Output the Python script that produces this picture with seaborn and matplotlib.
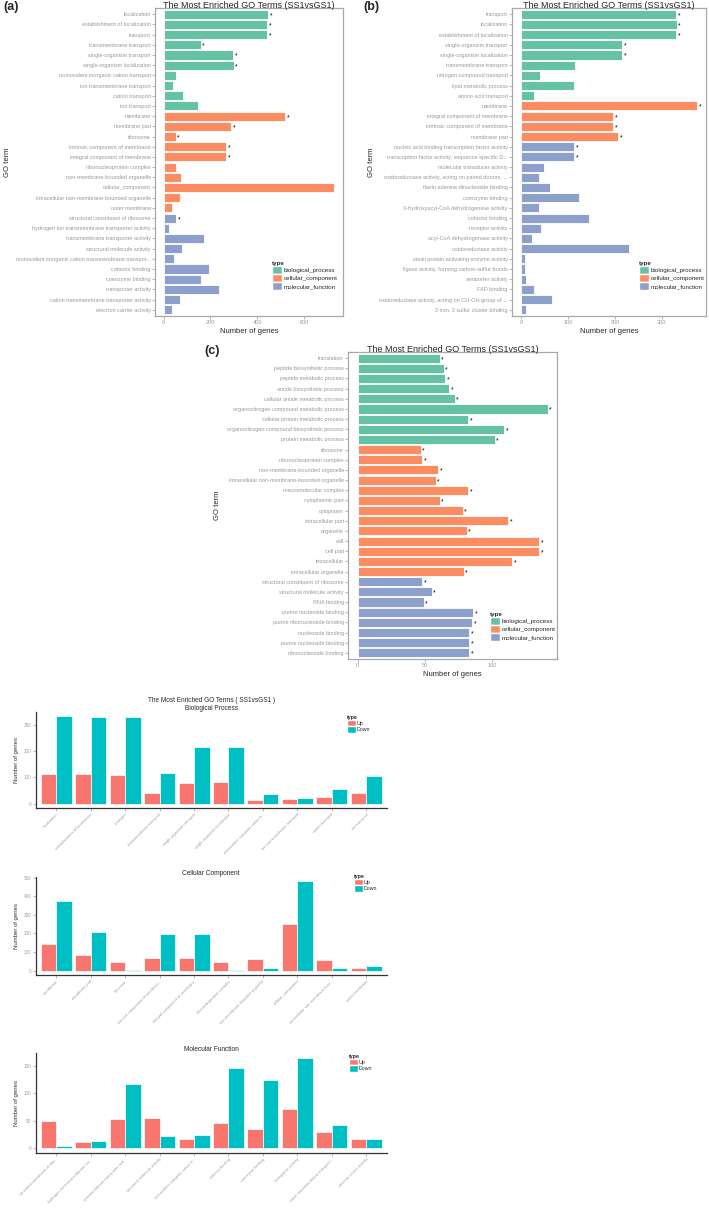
import pandas as pd
import matplotlib
matplotlib.use('Agg')
import matplotlib.pyplot as plt
from matplotlib.patches import Patch
import seaborn as sns

# ---- data ----
type_names = ['biological_process', 'cellular_component', 'molecular_function']
go_colors = ['#66C2A5', '#FC8D62', '#8DA0CB']
ud_colors = ['#F8766D', '#00BFC4']

# panel (a): all genes
a_terms = ['localization', 'establishment of localization', 'transport', 'transmembrane transport',
           'single-organism transport', 'single-organism localization',
           'monovalent inorganic cation transport', 'ion transmembrane transport',
           'cation transport', 'ion transport',
           'membrane', 'membrane part', 'ribosome', 'intrinsic component of membrane',
           'integral component of membrane', 'ribonucleoprotein complex',
           'non-membrane-bounded organelle', 'cellular_component',
           'intracellular non-membrane-bounded organelle', 'outer membrane',
           'structural constituent of ribosome', 'hydrogen ion transmembrane transporter activity',
           'transmembrane transporter activity', 'structural molecule activity',
           'monovalent inorganic cation transmembrane transpor...', 'cofactor binding',
           'coenzyme binding', 'transporter activity',
           'cation transmembrane transporter activity', 'electron carrier activity']
a_counts = [445, 442, 441, 159, 296, 299, 55, 41, 83, 146,
            518, 289, 51, 267, 267, 52, 74, 728, 72, 37,
            55, 25, 173, 79, 43, 194, 161, 237, 72, 35]
a_sizes = [10, 10, 10]
a_stars = [1, 1, 1, 1, 1, 1, 0, 0, 0, 0,
           1, 1, 1, 1, 1, 0, 0, 0, 0, 0,
           1, 0, 0, 0, 0, 0, 0, 0, 0, 0]
a_xticks = [0, 200, 400, 600]

# panel (b)
b_terms = ['transport', 'localization', 'establishment of localization',
           'single-organism transport', 'single-organism localization', 'transmembrane transport',
           'nitrogen compound transport', 'lipid metabolic process', 'amino acid transport',
           'membrane', 'integral component of membrane', 'intrinsic component of membrane',
           'membrane part',
           'nucleic acid binding transcription factor activity',
           'transcription factor activity, sequence-specific D...',
           'molecular transducer activity',
           'oxidoreductase activity, acting on paired donors, ...',
           'flavin adenine dinucleotide binding', 'coenzyme binding',
           '3-hydroxyacyl-CoA dehydrogenase activity', 'cofactor binding', 'receptor activity',
           'acyl-CoA dehydrogenase activity', 'oxidoreductase activity',
           'small protein activating enzyme activity',
           'ligase activity, forming carbon-sulfur bonds', 'antiporter activity', 'FAD binding',
           'oxidoreductase activity, acting on CH-OH group of ...',
           '2 iron, 2 sulfur cluster binding']
b_counts = [330, 332, 330, 216, 216, 115, 40, 113, 29,
            375, 196, 196, 207,
            114, 114, 50, 39, 62, 123, 38, 145, 43, 24, 230, 8, 8, 10, 29, 66, 12]
b_sizes = [9, 4, 17]
b_stars = [1, 1, 1, 1, 1, 0, 0, 0, 0,
           1, 1, 1, 1,
           1, 1, 0, 0, 0, 0, 0, 0, 0, 0, 0, 0, 0, 0, 0, 0, 0]
b_xticks = [0, 100, 200, 300]

# panel (c)
c_terms = ['translation', 'peptide biosynthetic process', 'peptide metabolic process',
           'amide biosynthetic process', 'cellular amide metabolic process',
           'organonitrogen compound metabolic process', 'cellular protein metabolic process',
           'organonitrogen compound biosynthetic process', 'protein metabolic process',
           'ribosome', 'ribonucleoprotein complex', 'non-membrane-bounded organelle',
           'intracellular non-membrane-bounded organelle', 'macromolecular complex',
           'cytoplasmic part', 'cytoplasm', 'intracellular part', 'organelle', 'cell',
           'cell part', 'intracellular', 'intracellular organelle',
           'structural constituent of ribosome', 'structural molecule activity', 'RNA binding',
           'purine nucleotide binding', 'purine ribonucleotide binding', 'nucleoside binding',
           'purine nucleoside binding', 'ribonucleoside binding']
c_counts = [61, 64, 65, 68, 72, 141, 82, 109, 102,
            47, 48, 60, 58, 82, 61, 78, 112, 81, 135, 135, 115, 79,
            48, 55, 49, 86, 85, 83, 83, 83]
c_sizes = [9, 13, 8]
c_stars = [1] * 30
c_xticks = [0, 50, 100]

# bottom: up / down per category (same terms as panel a)
bp_up = [112, 112, 110, 42, 78, 82, 15, 19, 25, 39]
bp_down = [332, 330, 330, 115, 216, 216, 35, 20, 54, 105]
cc_up = [142, 82, 48, 69, 69, 48, 60, 249, 59, 13]
cc_down = [375, 207, 4, 196, 196, 4, 13, 480, 12, 25]
mf_up = [49, 11, 54, 55, 17, 46, 36, 71, 29, 17]
mf_down = [5, 13, 117, 22, 25, 146, 124, 165, 43, 17]
bp_yticks = [0, 100, 200, 300]
cc_yticks = [0, 100, 200, 300, 400, 500]
mf_yticks = [0, 50, 100, 150]

# ---- style ----
sns.set_theme(style='white')
plt.rcParams['font.family'] = ['Liberation Sans', 'DejaVu Sans']

W, H = 709, 1211
fig = plt.figure(figsize=(W / 100, H / 100), dpi=100)


def add_ax(l, t, r, b):
    return fig.add_axes([l / W, 1 - b / H, (r - l) / W, (b - t) / H])


def short(s):
    return s if len(s) <= 30 else s[:30] + '...'


def go_panel(ax, terms, counts, sizes, stars, xticks, ylab_x, leg_xy):
    types = []
    for name, n in zip(type_names, sizes):
        types += [name] * n
    df = pd.DataFrame({'term': terms, 'count': counts, 'type': types})
    sns.barplot(data=df, x='count', y='term', hue='type', hue_order=type_names,
                palette=go_colors, order=terms, dodge=False, width=0.9, saturation=1,
                edgecolor='white', linewidth=0.6, legend=False, ax=ax)
    top = max(counts)
    ax.set_xlim(-0.05 * top, 1.05 * top)
    ax.set_ylim(len(terms) - 0.4, -0.6)
    ax.set_xticks(xticks)
    for i, (c, s) in enumerate(zip(counts, stars)):
        if s:
            ax.annotate('*', (c, i), xytext=(1.0, -1.0), textcoords='offset points',
                        ha='left', va='center', fontsize=4.8, color='black')
    ax.set_title('The Most Enriched GO Terms (SS1vsGS1)', fontsize=6.5, pad=0)
    ax.set_xlabel('Number of genes', fontsize=5.5, labelpad=2)
    ax.set_ylabel('GO term', fontsize=5.5)
    ax.yaxis.set_label_coords(ylab_x, 0.5)
    for sp in ax.spines.values():
        sp.set_color('#a8a8a8')
        sp.set_linewidth(0.9)
    ax.tick_params(labelsize=4, colors='#999999', length=2, width=0.5, pad=1,
                   left=True, bottom=True)
    handles = [Patch(facecolor=c, edgecolor='white', label=n) for n, c in zip(type_names, go_colors)]
    leg = ax.legend(handles=handles, title='type', loc='upper left',
                    bbox_to_anchor=(leg_xy[0] / W, 1 - leg_xy[1] / H),
                    bbox_transform=fig.transFigure, frameon=False, fontsize=4.5,
                    title_fontsize=4.5, handlelength=1.6, handleheight=1.6,
                    labelspacing=0, handletextpad=0.3, borderpad=0, borderaxespad=0,
                    alignment='left')
    leg.get_title().set_fontweight('bold')


def updown_panel(ax, labels, up, down, title, yticks, leg_xy):
    df = pd.DataFrame({'term': labels * 2, 'count': up + down,
                       'type': ['Up'] * len(up) + ['Down'] * len(down)})
    sns.barplot(data=df, x='term', y='count', hue='type', hue_order=['Up', 'Down'],
                palette=ud_colors, order=labels, width=0.9, saturation=1,
                edgecolor='white', linewidth=0.5, legend=False, ax=ax)
    top = max(up + down)
    ax.set_ylim(-0.05 * top, 1.05 * top)
    ax.set_xlim(-0.6, len(labels) - 0.4)
    ax.set_yticks(yticks)
    ax.set_xticks(range(len(labels)))
    ax.set_xticklabels(labels, rotation=45, ha='right', rotation_mode='anchor')
    sns.despine(ax=ax)
    for side in ['left', 'bottom']:
        ax.spines[side].set_color('#333333')
        ax.spines[side].set_linewidth(0.9)
    ax.tick_params(axis='x', labelsize=2.9, colors='#a0a0a0', length=2, width=0.5, pad=1,
                   bottom=True)
    ax.tick_params(axis='y', labelsize=3.3, colors='#a0a0a0', length=2, width=0.5, pad=1,
                   left=True)
    ax.set_xlabel('')
    ax.set_ylabel('Number of genes', fontsize=4.3, color='#333333')
    ax.yaxis.set_label_coords(-0.046, 0.5)
    ax.set_title(title, fontsize=4.7, pad=1.5, linespacing=1.2)
    handles = [Patch(facecolor=c, edgecolor='white', label=n) for n, c in zip(['Up', 'Down'], ud_colors)]
    leg = ax.legend(handles=handles, title='type', loc='upper left',
                    bbox_to_anchor=(leg_xy[0] / W, 1 - leg_xy[1] / H),
                    bbox_transform=fig.transFigure, frameon=False, fontsize=3.8,
                    title_fontsize=3.8, handlelength=1.7, handleheight=1.5,
                    labelspacing=0, handletextpad=0.2, borderpad=0, borderaxespad=0,
                    alignment='left')
    leg.get_title().set_fontweight('bold')


# ---- panels (a), (b), (c) ----
ax_a = add_ax(155, 8, 343, 316)
go_panel(ax_a, a_terms, a_counts, a_sizes, a_stars, a_xticks, -0.765, (272, 261))

ax_b = add_ax(512, 8, 706, 316)
go_panel(ax_b, b_terms, b_counts, b_sizes, b_stars, b_xticks, -0.708, (639, 261))

ax_c = add_ax(348, 352, 557, 659)
go_panel(ax_c, c_terms, c_counts, c_sizes, c_stars, c_xticks, -0.609, (490, 612))

fig.text(3 / W, 1 - 7 / H, '(a)', fontsize=9, fontweight='bold', va='center')
fig.text(363 / W, 1 - 7 / H, '(b)', fontsize=9, fontweight='bold', va='center')
fig.text(204 / W, 1 - 351 / H, '(c)', fontsize=9, fontweight='bold', va='center')

# ---- up / down bar charts ----
bp_labels = [short(t) for t in a_terms[0:10]]
cc_labels = [short(t) for t in a_terms[10:20]]
mf_labels = [short(t) for t in a_terms[20:30]]
mf_labels[4] = short('monovalent inorganic cation transmembrane transporter activity')

ax1 = add_ax(35.5, 712, 387, 808)
updown_panel(ax1, bp_labels, bp_up, bp_down,
             'The Most Enriched GO Terms ( SS1vsGS1 )\nBiological Process', bp_yticks, (347, 715))

ax2 = add_ax(35.5, 877, 387, 975)
updown_panel(ax2, cc_labels, cc_up, cc_down, 'Cellular Component', cc_yticks, (353.6, 874))

ax3 = add_ax(35.5, 1053, 387, 1153)
updown_panel(ax3, mf_labels, mf_up, mf_down, 'Molecular Function', mf_yticks, (349, 1054))

fig.savefig('out.png', dpi=100)
